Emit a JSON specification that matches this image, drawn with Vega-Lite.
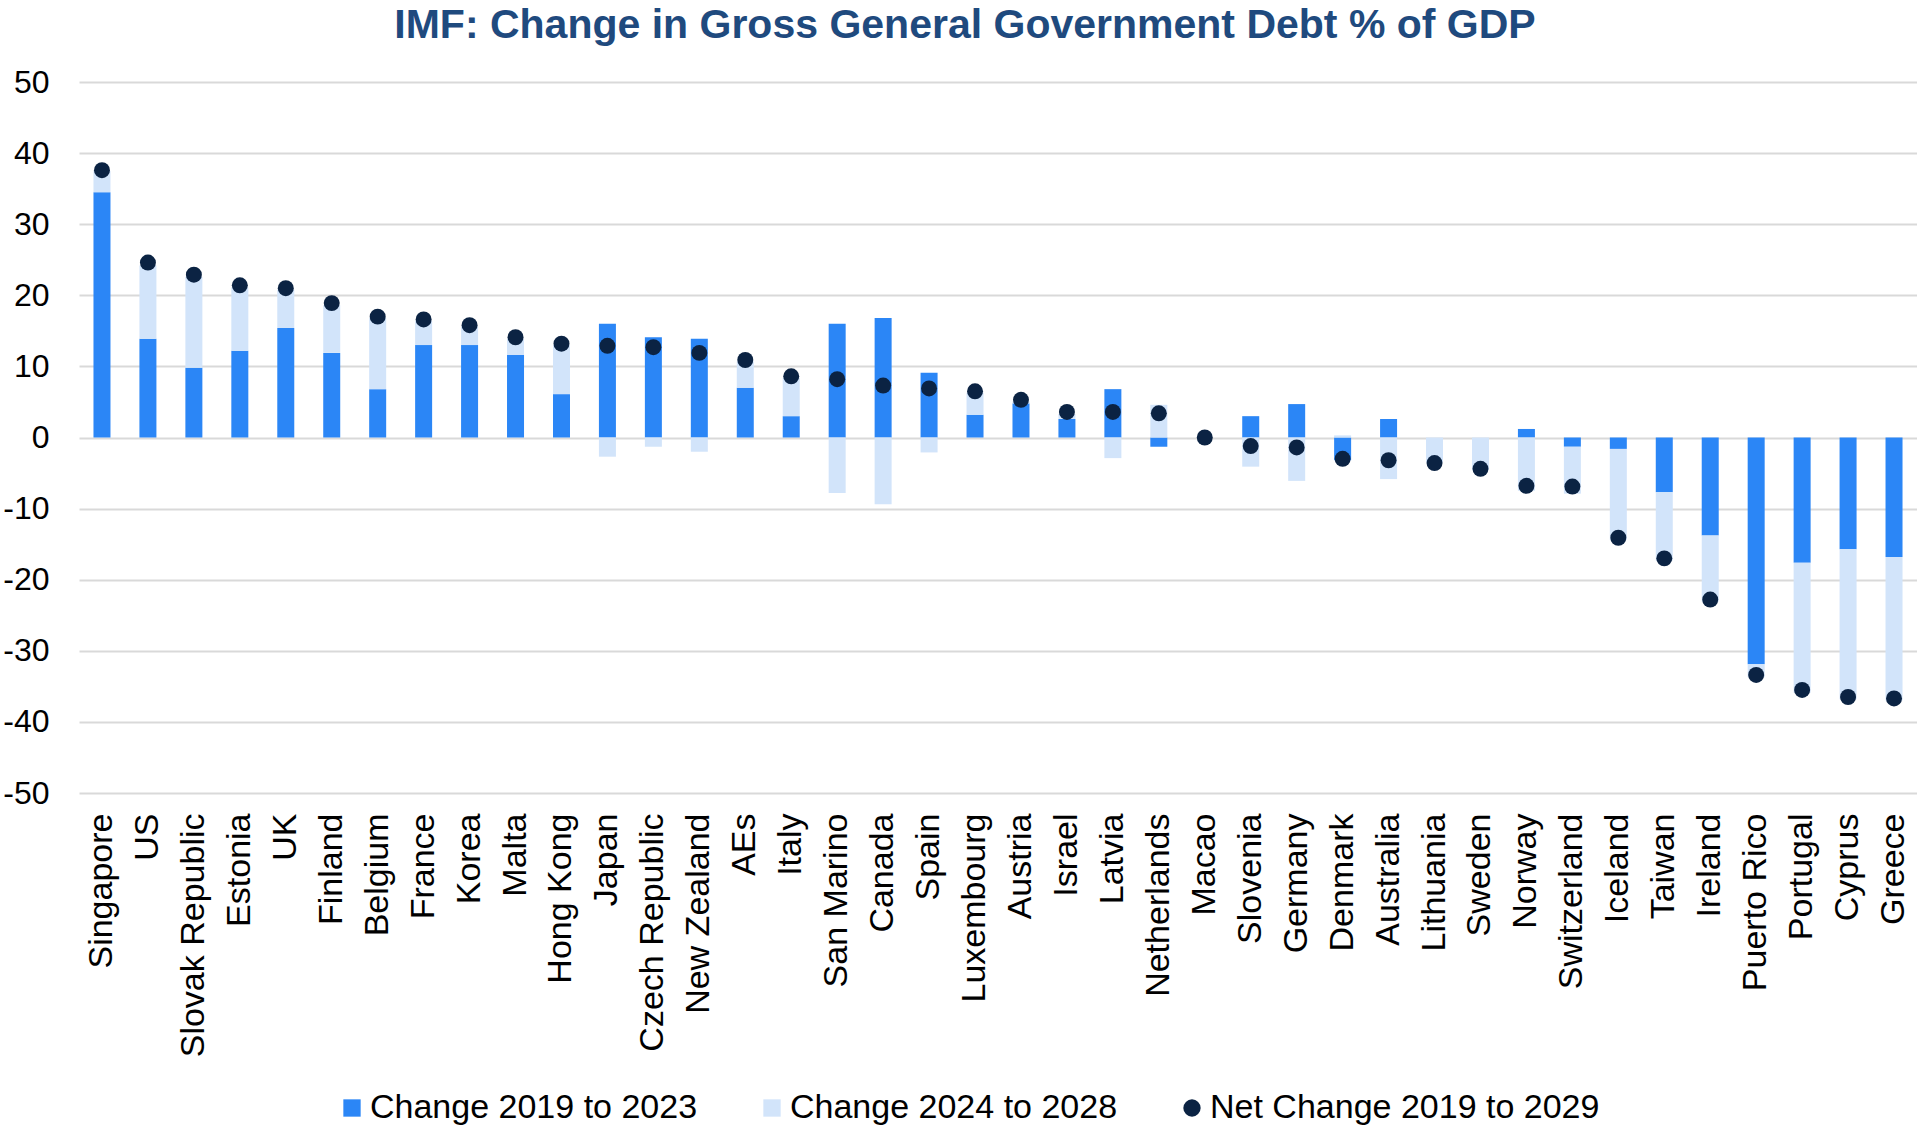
{
  "$schema": "https://vega.github.io/schema/vega-lite/v6.json",
  "width": 1838,
  "height": 711,
  "autosize": {"type": "none"},
  "padding": {"left": 79, "top": 82, "right": 0, "bottom": 333},
  "background": "white",
  "title": {
    "text": "IMF: Change in Gross General Government Debt % of GDP",
    "font": "Liberation Sans",
    "fontSize": 41,
    "fontWeight": "bold",
    "color": "#1f4a7e",
    "anchor": "middle",
    "frame": "group",
    "dx": -33,
    "offset": 19
  },
  "config": {
    "view": {"stroke": null},
    "legend": {
      "orient": "none",
      "legendX": 256,
      "legendY": 1009,
      "direction": "horizontal",
      "labelFont": "Liberation Sans",
      "labelFontSize": 34,
      "labelColor": "#000000",
      "symbolSize": 300,
      "columnPadding": 57,
      "labelOffset": 1,
      "labelLimit": 600,
      "symbolStrokeWidth": 0,
      "title": null
    }
  },
  "data": {
    "values": [
      {"country": "Singapore", "Change 2019 to 2023": 34.5, "Change 2024 to 2028": 3.0, "Net Change 2019 to 2029": 37.6},
      {"country": "US", "Change 2019 to 2023": 13.9, "Change 2024 to 2028": 10.3, "Net Change 2019 to 2029": 24.6},
      {"country": "Slovak Republic", "Change 2019 to 2023": 9.8, "Change 2024 to 2028": 12.8, "Net Change 2019 to 2029": 22.9},
      {"country": "Estonia", "Change 2019 to 2023": 12.2, "Change 2024 to 2028": 8.9, "Net Change 2019 to 2029": 21.4},
      {"country": "UK", "Change 2019 to 2023": 15.4, "Change 2024 to 2028": 5.4, "Net Change 2019 to 2029": 21.0},
      {"country": "Finland", "Change 2019 to 2023": 11.9, "Change 2024 to 2028": 6.7, "Net Change 2019 to 2029": 18.9},
      {"country": "Belgium", "Change 2019 to 2023": 6.8, "Change 2024 to 2028": 10.0, "Net Change 2019 to 2029": 17.0},
      {"country": "France", "Change 2019 to 2023": 13.0, "Change 2024 to 2028": 3.4, "Net Change 2019 to 2029": 16.6},
      {"country": "Korea", "Change 2019 to 2023": 13.0, "Change 2024 to 2028": 2.6, "Net Change 2019 to 2029": 15.8},
      {"country": "Malta", "Change 2019 to 2023": 11.6, "Change 2024 to 2028": 2.3, "Net Change 2019 to 2029": 14.1},
      {"country": "Hong Kong", "Change 2019 to 2023": 6.1, "Change 2024 to 2028": 6.9, "Net Change 2019 to 2029": 13.2},
      {"country": "Japan", "Change 2019 to 2023": 16.0, "Change 2024 to 2028": -2.7, "Net Change 2019 to 2029": 12.9},
      {"country": "Czech Republic", "Change 2019 to 2023": 14.1, "Change 2024 to 2028": -1.3, "Net Change 2019 to 2029": 12.7},
      {"country": "New Zealand", "Change 2019 to 2023": 13.9, "Change 2024 to 2028": -2.0, "Net Change 2019 to 2029": 11.9},
      {"country": "AEs", "Change 2019 to 2023": 7.0, "Change 2024 to 2028": 3.7, "Net Change 2019 to 2029": 10.9},
      {"country": "Italy", "Change 2019 to 2023": 3.0, "Change 2024 to 2028": 5.4, "Net Change 2019 to 2029": 8.6},
      {"country": "San Marino", "Change 2019 to 2023": 16.0, "Change 2024 to 2028": -7.8, "Net Change 2019 to 2029": 8.2},
      {"country": "Canada", "Change 2019 to 2023": 16.8, "Change 2024 to 2028": -9.4, "Net Change 2019 to 2029": 7.3},
      {"country": "Spain", "Change 2019 to 2023": 9.1, "Change 2024 to 2028": -2.1, "Net Change 2019 to 2029": 6.9},
      {"country": "Luxembourg", "Change 2019 to 2023": 3.2, "Change 2024 to 2028": 3.1, "Net Change 2019 to 2029": 6.5},
      {"country": "Austria", "Change 2019 to 2023": 4.8, "Change 2024 to 2028": 0.3, "Net Change 2019 to 2029": 5.3},
      {"country": "Israel", "Change 2019 to 2023": 2.6, "Change 2024 to 2028": 0.7, "Net Change 2019 to 2029": 3.6},
      {"country": "Latvia", "Change 2019 to 2023": 6.8, "Change 2024 to 2028": -2.9, "Net Change 2019 to 2029": 3.6},
      {"country": "Netherlands", "Change 2019 to 2023": -1.3, "Change 2024 to 2028": 4.6, "Net Change 2019 to 2029": 3.4},
      {"country": "Macao", "Change 2019 to 2023": 0.0, "Change 2024 to 2028": 0.0, "Net Change 2019 to 2029": 0.0},
      {"country": "Slovenia", "Change 2019 to 2023": 3.0, "Change 2024 to 2028": -4.1, "Net Change 2019 to 2029": -1.2},
      {"country": "Germany", "Change 2019 to 2023": 4.7, "Change 2024 to 2028": -6.1, "Net Change 2019 to 2029": -1.4},
      {"country": "Denmark", "Change 2019 to 2023": -3.2, "Change 2024 to 2028": 0.3, "Net Change 2019 to 2029": -3.0},
      {"country": "Australia", "Change 2019 to 2023": 2.6, "Change 2024 to 2028": -5.85, "Net Change 2019 to 2029": -3.2},
      {"country": "Lithuania", "Change 2019 to 2023": 0.0, "Change 2024 to 2028": -3.5, "Net Change 2019 to 2029": -3.6},
      {"country": "Sweden", "Change 2019 to 2023": 0.0, "Change 2024 to 2028": -4.6, "Net Change 2019 to 2029": -4.4},
      {"country": "Norway", "Change 2019 to 2023": 1.2, "Change 2024 to 2028": -7.5, "Net Change 2019 to 2029": -6.8},
      {"country": "Switzerland", "Change 2019 to 2023": -1.3, "Change 2024 to 2028": -6.6, "Net Change 2019 to 2029": -6.9},
      {"country": "Iceland", "Change 2019 to 2023": -1.6, "Change 2024 to 2028": -12.8, "Net Change 2019 to 2029": -14.1},
      {"country": "Taiwan", "Change 2019 to 2023": -7.7, "Change 2024 to 2028": -9.6, "Net Change 2019 to 2029": -17.0},
      {"country": "Ireland", "Change 2019 to 2023": -13.8, "Change 2024 to 2028": -9.3, "Net Change 2019 to 2029": -22.8},
      {"country": "Puerto Rico", "Change 2019 to 2023": -31.9, "Change 2024 to 2028": -1.8, "Net Change 2019 to 2029": -33.4},
      {"country": "Portugal", "Change 2019 to 2023": -17.6, "Change 2024 to 2028": -18.3, "Net Change 2019 to 2029": -35.5},
      {"country": "Cyprus", "Change 2019 to 2023": -15.7, "Change 2024 to 2028": -21.1, "Net Change 2019 to 2029": -36.5},
      {"country": "Greece", "Change 2019 to 2023": -16.8, "Change 2024 to 2028": -20.2, "Net Change 2019 to 2029": -36.7}
    ]
  },
  "encoding": {
    "x": {
      "field": "country",
      "type": "nominal",
      "sort": null,
      "scale": {"paddingInner": 0, "paddingOuter": 0},
      "axis": {
        "title": null,
        "labelAngle": -90,
        "labelFont": "Liberation Sans",
        "labelFontSize": 34,
        "labelColor": "#000000",
        "labelPadding": 20,
        "labelLimit": 400,
        "ticks": false,
        "domain": false,
        "grid": false
      }
    }
  },
  "layer": [
    {
      "transform": [{"fold": ["Change 2019 to 2023", "Change 2024 to 2028"], "as": ["series", "value"]}],
      "mark": {"type": "bar", "size": 17},
      "encoding": {
        "y": {
          "field": "value",
          "type": "quantitative",
          "stack": "zero",
          "scale": {"domain": [-50, 50], "nice": false},
          "axis": {
            "title": null,
            "values": [-50, -40, -30, -20, -10, 0, 10, 20, 30, 40, 50],
            "labelExpr": "replace(datum.label, '\u2212', '-')",
            "labelFont": "Liberation Sans",
            "labelFontSize": 32,
            "labelColor": "#000000",
            "labelPadding": 30,
            "ticks": false,
            "domain": false,
            "gridColor": "#d9d9d9",
            "gridWidth": 2
          }
        },
        "color": {
          "field": "series",
          "type": "nominal",
          "scale": {
            "domain": ["Change 2019 to 2023", "Change 2024 to 2028", "Net Change 2019 to 2029"],
            "range": ["#2b86f6", "#d2e4fa", "#0b2343"]
          }
        },
        "order": {"field": "series", "sort": "ascending"}
      }
    },
    {
      "transform": [{"fold": ["Net Change 2019 to 2029"], "as": ["series", "value"]}],
      "mark": {"type": "point", "filled": true, "size": 255, "opacity": 1},
      "encoding": {
        "y": {"field": "value", "type": "quantitative"},
        "color": {"field": "series", "type": "nominal"},
        "shape": {
          "field": "series",
          "type": "nominal",
          "scale": {
            "domain": ["Change 2019 to 2023", "Change 2024 to 2028", "Net Change 2019 to 2029"],
            "range": ["square", "square", "circle"]
          }
        }
      }
    }
  ]
}
